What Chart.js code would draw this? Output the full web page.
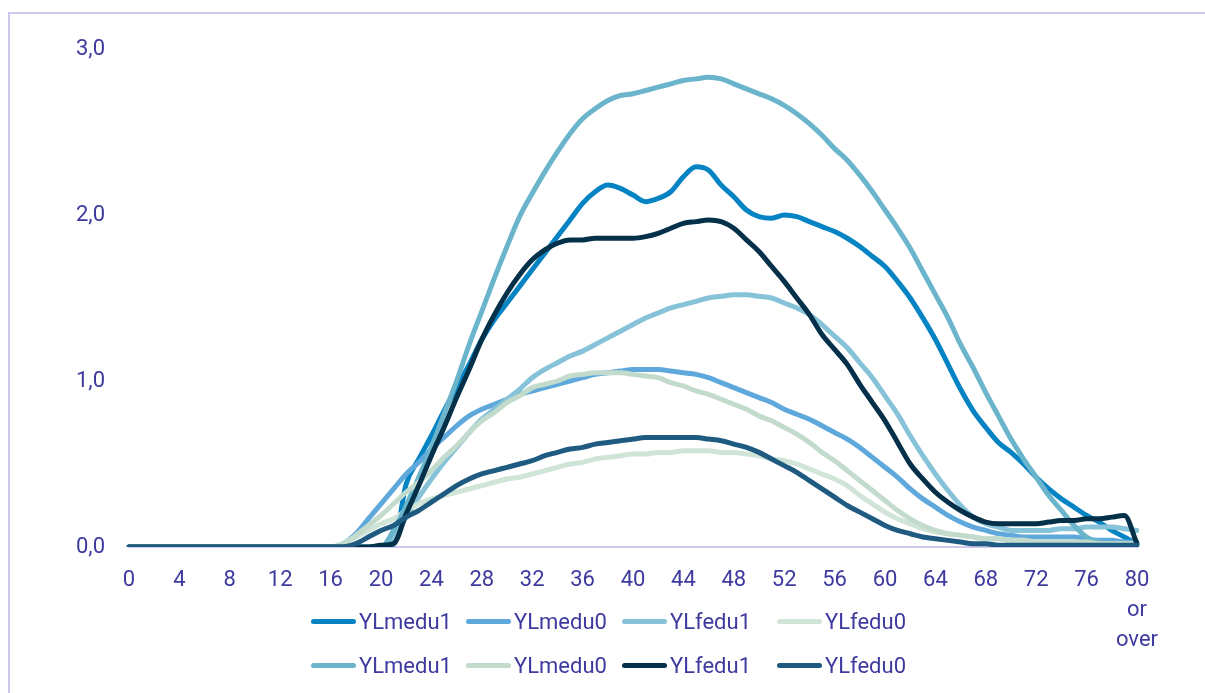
<!DOCTYPE html>
<html>
<head>
<meta charset="utf-8">
<script src="https://cdn.jsdelivr.net/npm/chart.js@4/dist/chart.umd.min.js"></script>
<style>
  body { margin: 0; background: #fff; font-family: Roboto, sans-serif; }
  #wrap { position: relative; width: 1205px; height: 693px; overflow: hidden; }
  #frame { position: absolute; left: 8px; top: 12px; width: 1400px; height: 900px; border: 2px solid #cdc8ec; box-sizing: border-box; }
  #chart { position: absolute; left: 0; top: 0; }
  .legend-item { position: absolute; height: 24px; display: flex; align-items: center; color: #3e3a9f; font-size: 22px; }
  .legend-item span.sw { display: inline-block; width: 45px; height: 5px; border-radius: 3px; margin-right: 3px; }
</style>
</head>
<body>
<div id="wrap">
  <div id="frame"></div>
  <canvas id="chart" width="1205" height="693"></canvas>
  <div id="legend"></div>
</div>
<script>
// ages 0..80, last category is "80 or over"
const ages = Array.from({length: 80}, (_, i) => String(i)).concat(['80 or over']);

const seriesNames = ['YLmedu1', 'YLmedu0', 'YLfedu1', 'YLfedu0', 'YLmedu1', 'YLmedu0', 'YLfedu1', 'YLfedu0'];
const seriesColors = ['#0583c3', '#5ea8dc', '#86c2d8', '#d0e4d8', '#6ab4cc', '#c3dbcd', '#04304a', '#1f5a80'];

const ylmedu1A = [0,0,0,0,0,0,0,0,0,0, 0,0,0,0,0,0,0,0,0,0,
  0, 0.02, 0.38, 0.53, 0.67, 0.82, 0.96, 1.10, 1.25, 1.37,
  1.47, 1.57, 1.67, 1.77, 1.87, 1.97, 2.07, 2.14, 2.18, 2.16,
  2.12, 2.08, 2.10, 2.14, 2.23, 2.29, 2.27, 2.18, 2.11, 2.03,
  1.99, 1.98, 2.00, 1.99, 1.96, 1.93, 1.90, 1.86, 1.81, 1.75,
  1.69, 1.60, 1.50, 1.38, 1.25, 1.10, 0.95, 0.82, 0.72, 0.63,
  0.57, 0.50, 0.42, 0.35, 0.29, 0.24, 0.19, 0.15, 0.10, 0.06, 0.02];

const ylmedu0A = [0,0,0,0,0,0,0,0,0,0, 0,0,0,0,0,0,0,0.02,0.08,0.17,
  0.26, 0.35, 0.44, 0.51, 0.59, 0.66, 0.73, 0.79, 0.83, 0.86,
  0.89, 0.92, 0.94, 0.96, 0.98, 1.00, 1.02, 1.04, 1.05, 1.06,
  1.07, 1.07, 1.07, 1.06, 1.05, 1.04, 1.02, 0.99, 0.96, 0.93,
  0.90, 0.87, 0.83, 0.80, 0.77, 0.73, 0.69, 0.65, 0.60, 0.54,
  0.48, 0.42, 0.35, 0.29, 0.24, 0.19, 0.15, 0.12, 0.10, 0.08,
  0.07, 0.06, 0.06, 0.06, 0.06, 0.06, 0.05, 0.04, 0.04, 0.03, 0.03];

const ylfedu1A = [0,0,0,0,0,0,0,0,0,0, 0,0,0,0,0,0,0,0,0,0,
  0, 0.06, 0.18, 0.30, 0.41, 0.51, 0.60, 0.69, 0.77, 0.83,
  0.89, 0.95, 1.02, 1.07, 1.11, 1.15, 1.18, 1.22, 1.26, 1.30,
  1.34, 1.38, 1.41, 1.44, 1.46, 1.48, 1.50, 1.51, 1.52, 1.52,
  1.51, 1.50, 1.47, 1.44, 1.40, 1.34, 1.27, 1.20, 1.11, 1.02,
  0.91, 0.80, 0.67, 0.55, 0.44, 0.34, 0.25, 0.18, 0.14, 0.12,
  0.10, 0.10, 0.10, 0.10, 0.11, 0.11, 0.12, 0.12, 0.12, 0.11, 0.10];

const ylfedu0A = [0,0,0,0,0,0,0,0,0,0, 0,0,0,0,0,0,0,0.02,0.06,0.10,
  0.14, 0.17, 0.22, 0.26, 0.29, 0.31, 0.33, 0.35, 0.37, 0.39,
  0.41, 0.42, 0.44, 0.46, 0.48, 0.50, 0.51, 0.53, 0.54, 0.55,
  0.56, 0.56, 0.57, 0.57, 0.58, 0.58, 0.58, 0.57, 0.57, 0.56,
  0.55, 0.53, 0.52, 0.50, 0.47, 0.44, 0.41, 0.37, 0.31, 0.26,
  0.21, 0.17, 0.14, 0.11, 0.09, 0.08, 0.07, 0.06, 0.05, 0.05,
  0.04, 0.04, 0.03, 0.03, 0.03, 0.03, 0.02, 0.02, 0.02, 0.02, 0.02];

const ylmedu1B = [0,0,0,0,0,0,0,0,0,0, 0,0,0,0,0,0,0,0,0,0,
  0, 0.10, 0.25, 0.42, 0.60, 0.80, 1.00, 1.22, 1.42, 1.62,
  1.81, 1.99, 2.13, 2.26, 2.38, 2.49, 2.58, 2.64, 2.69, 2.72,
  2.73, 2.75, 2.77, 2.79, 2.81, 2.82, 2.83, 2.82, 2.79, 2.76,
  2.73, 2.70, 2.66, 2.61, 2.55, 2.48, 2.40, 2.33, 2.24, 2.14,
  2.03, 1.92, 1.80, 1.66, 1.52, 1.38, 1.22, 1.08, 0.93, 0.79,
  0.65, 0.53, 0.42, 0.31, 0.22, 0.13, 0.06, 0.03, 0.02, 0.02, 0.02];

const ylmedu0B = [0,0,0,0,0,0,0,0,0,0, 0,0,0,0,0,0,0,0.02,0.07,0.13,
  0.19, 0.26, 0.33, 0.39, 0.46, 0.54, 0.61, 0.69, 0.76, 0.81,
  0.87, 0.91, 0.96, 0.98, 1.00, 1.03, 1.04, 1.05, 1.05, 1.05,
  1.04, 1.03, 1.02, 0.99, 0.97, 0.94, 0.92, 0.89, 0.86, 0.83,
  0.79, 0.76, 0.72, 0.68, 0.63, 0.57, 0.52, 0.46, 0.40, 0.34,
  0.28, 0.22, 0.17, 0.13, 0.10, 0.08, 0.07, 0.06, 0.05, 0.05,
  0.04, 0.04, 0.03, 0.03, 0.03, 0.03, 0.03, 0.02, 0.02, 0.02, 0.02];

const ylfedu1B = [0,0,0,0,0,0,0,0,0,0, 0,0,0,0,0,0,0,0,0,0,
  0.01, 0.02, 0.20, 0.37, 0.55, 0.72, 0.90, 1.07, 1.25, 1.40,
  1.53, 1.64, 1.73, 1.79, 1.83, 1.85, 1.85, 1.86, 1.86, 1.86,
  1.86, 1.87, 1.89, 1.92, 1.95, 1.96, 1.97, 1.96, 1.92, 1.85,
  1.78, 1.69, 1.60, 1.50, 1.40, 1.28, 1.19, 1.10, 0.98, 0.87,
  0.76, 0.63, 0.50, 0.41, 0.33, 0.27, 0.22, 0.18, 0.15, 0.14,
  0.14, 0.14, 0.14, 0.15, 0.16, 0.16, 0.17, 0.17, 0.18, 0.19, 0.02];

const ylfedu0B = [0,0,0,0,0,0,0,0,0,0, 0,0,0,0,0,0,0,0,0.02,0.06,
  0.10, 0.13, 0.18, 0.22, 0.27, 0.32, 0.37, 0.41, 0.44, 0.46,
  0.48, 0.50, 0.52, 0.55, 0.57, 0.59, 0.60, 0.62, 0.63, 0.64,
  0.65, 0.66, 0.66, 0.66, 0.66, 0.66, 0.65, 0.64, 0.62, 0.60,
  0.57, 0.53, 0.49, 0.45, 0.40, 0.35, 0.30, 0.25, 0.21, 0.17,
  0.13, 0.10, 0.08, 0.06, 0.05, 0.04, 0.03, 0.02, 0.02, 0.01,
  0.01, 0.01, 0.01, 0.01, 0.01, 0.01, 0.01, 0.01, 0.01, 0.01, 0.01];

const allSeries = [ylmedu1A, ylmedu0A, ylfedu1A, ylfedu0A, ylmedu1B, ylmedu0B, ylfedu1B, ylfedu0B];

const textColor = '#3e3a9f';

const datasets = allSeries.map((data, i) => ({
  label: seriesNames[i],
  data: data,
  borderColor: seriesColors[i],
  backgroundColor: seriesColors[i],
  borderWidth: 5,
  pointRadius: 0,
  cubicInterpolationMode: 'monotone',
  borderCapStyle: 'round',
  borderJoinStyle: 'round',
  fill: false,
  // later series on top, like the original
  order: allSeries.length - 1 - i
}));

new Chart(document.getElementById('chart'), {
  type: 'line',
  data: { labels: ages, datasets: datasets },
  options: {
    responsive: false,
    animation: false,
    devicePixelRatio: 1,
    layout: { padding: { left: 0, right: 68, top: 49, bottom: 0 } },
    plugins: { legend: { display: false }, tooltip: { enabled: false } },
    scales: {
      x: {
        grid: { display: false, drawTicks: false },
        border: { display: true, color: '#cdc8ec', width: 2 },
        afterFit: s => { s.height = 146; },
        ticks: {
          autoSkip: false,
          maxRotation: 0,
          padding: 18,
          color: textColor,
          font: { family: 'Roboto', size: 22, lineHeight: '30px' },
          callback: function(value, index) {
            if (index % 4 !== 0) return '';
            const l = ages[index];
            return l.indexOf(' ') > 0 ? l.split(' ') : l;
          }
        }
      },
      y: {
        min: 0,
        max: 3,
        grid: { display: false, drawTicks: false },
        border: { display: false },
        afterFit: s => { s.width = 129; },
        ticks: {
          stepSize: 1,
          padding: 24,
          color: textColor,
          font: { family: 'Roboto', size: 22 },
          callback: v => v.toFixed(1).replace('.', ',')
        }
      }
    }
  }
});

// legend in two rows of four, like the original
const legend = document.getElementById('legend');
const slotX = [311, 466, 622, 777];
const rowY = [609, 653];
seriesNames.forEach((name, i) => {
  const item = document.createElement('div');
  item.className = 'legend-item';
  item.style.left = slotX[i % 4] + 'px';
  item.style.top = rowY[Math.floor(i / 4)] + 'px';
  item.innerHTML = '<span class="sw" style="background:' + seriesColors[i] + '"></span>' + name;
  legend.appendChild(item);
});
</script>
</body>
</html>
